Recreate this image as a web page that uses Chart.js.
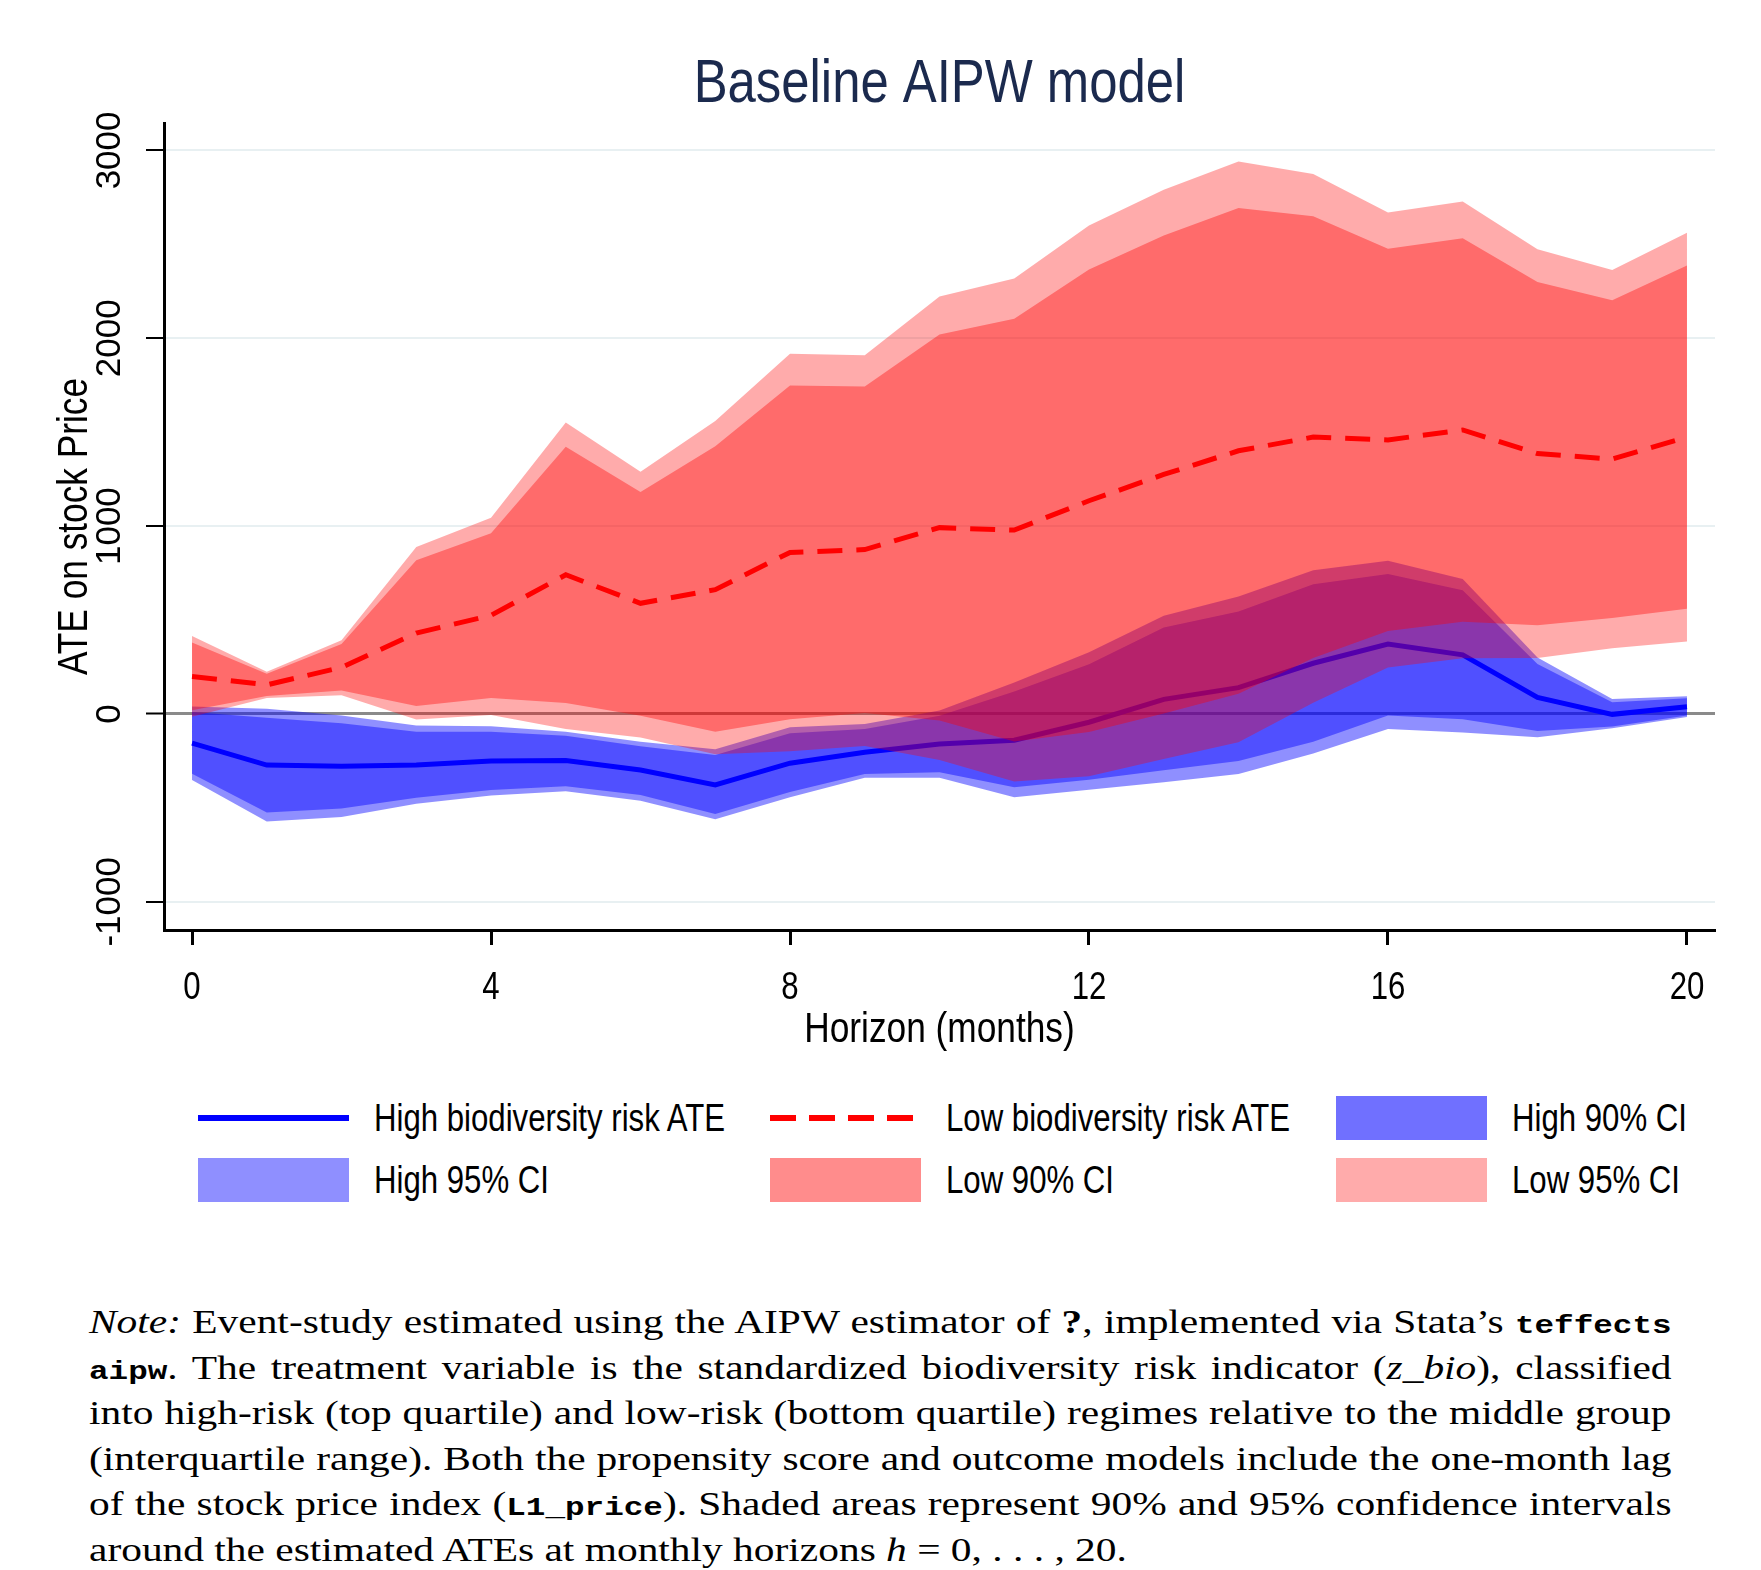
<!DOCTYPE html>
<html>
<head>
<meta charset="utf-8">
<title>Baseline AIPW model</title>
<script src="https://cdn.jsdelivr.net/npm/chart.js@4.4.1/dist/chart.umd.min.js"></script>
<style>
  html, body { margin: 0; padding: 0; background: #fff; }
  body { width: 1761px; height: 1570px; position: relative; overflow: hidden; }
  #wrap { position: absolute; left: 0; top: 0; width: 1761px; height: 1060px; }
  .lg { position: absolute; font-family: 'Liberation Sans', Arial, sans-serif; font-size: 38px; color: #000;
        white-space: nowrap; transform: scaleX(0.82); transform-origin: left center; }
  .sw { position: absolute; width: 151px; }
  #note { position: absolute; left: 89px; top: 1300px; width: 1261px; transform: scaleX(1.255); transform-origin: left top;
          font-family: 'Liberation Serif', 'DejaVu Serif', serif; font-size: 33px; color: #000; }
  .ln { white-space: nowrap; height: 45.6px; line-height: 45.6px; text-align: justify; text-align-last: justify; }
  .ln.last { text-align-last: left; }
  .tt { font-family: 'Liberation Mono', 'DejaVu Sans Mono', monospace; font-weight: bold; font-size: 26px; }
</style>
</head>
<body>
<div id="wrap"><canvas id="chart"></canvas></div>
<div id="legend"></div>
<div id="note">
  <div class="ln"><i>Note:</i> Event-study estimated using the AIPW estimator of <b>?</b>, implemented via Stata’s <span class="tt">teffects</span></div>
  <div class="ln"><span class="tt">aipw</span>. The treatment variable is the standardized biodiversity risk indicator (<i>z</i>_<i>bio</i>), classified</div>
  <div class="ln">into high-risk (top quartile) and low-risk (bottom quartile) regimes relative to the middle group</div>
  <div class="ln">(interquartile range). Both the propensity score and outcome models include the one-month lag</div>
  <div class="ln">of the stock price index (<span class="tt">L1_price</span>). Shaded areas represent 90% and 95% confidence intervals</div>
  <div class="ln last">around the estimated ATEs at monthly horizons <i>h</i> = 0, . . . , 20.</div>
</div>
<script>
// ---- data ----
const horizon = [0, 1, 2, 3, 4, 5, 6, 7, 8, 9, 10, 11, 12, 13, 14, 15, 16, 17, 18, 19, 20];

// high biodiversity risk (blue)
const highATE  = [-155, -272, -278, -271, -250, -248, -298, -378, -262, -204, -160, -140, -44, 78, 140, 270, 372, 315, 88, -2, 38];
const highHi95 = [40, 28, -8, -62, -66, -94, -148, -188, -71, -53, 18, 168, 328, 523, 625, 765, 816, 718, 300, 80, 94];
const highLo95 = [-351, -572, -548, -478, -434, -412, -462, -561, -443, -340, -340, -443, -403, -364, -320, -210, -80, -98, -124, -76, -16];
const highHi90 = [10, -20, -50, -94, -95, -116, -172, -218, -103, -80, -10, 120, 265, 460, 545, 690, 745, 658, 266, 63, 84];
const highLo90 = [-318, -524, -503, -446, -405, -385, -432, -532, -415, -320, -310, -390, -350, -300, -250, -148, -8, -28, -90, -67, -8];

// low biodiversity risk (red)
const lowATE  = [200, 155, 248, 431, 525, 741, 589, 662, 860, 875, 992, 979, 1135, 1275, 1401, 1474, 1459, 1512, 1386, 1357, 1474];
const lowHi95 = [415, 225, 392, 889, 1045, 1551, 1289, 1560, 1918, 1910, 2222, 2318, 2601, 2790, 2941, 2874, 2670, 2728, 2474, 2364, 2562];
const lowLo95 = [-15, 85, 100, -30, -5, -80, -125, -215, -198, -170, -245, -360, -331, -240, -150, 60, 248, 296, 298, 350, 386];
const lowHi90 = [380, 214, 372, 818, 962, 1423, 1181, 1425, 1748, 1743, 2020, 2104, 2366, 2547, 2694, 2650, 2476, 2533, 2300, 2203, 2388];
const lowLo90 = [20, 96, 125, 42, 85, 58, -10, -95, -28, 5, -35, -146, -96, 3, 108, 298, 442, 491, 472, 511, 560];

const xTicks = [0, 4, 8, 12, 16, 20];
const yTicks = [-1000, 0, 1000, 2000, 3000];

const chartTitle = 'Baseline AIPW model';
const xTitle = 'Horizon (months)';
const yTitle = 'ATE on stock Price';
const legendLabels = ['High biodiversity risk ATE', 'Low biodiversity risk ATE', 'High 90% CI',
                      'High 95% CI', 'Low 90% CI', 'Low 95% CI'];

// ---- styling ----
const SANS = "'Liberation Sans', Arial, sans-serif";
const NARROW = 0.82;   // horizontal squeeze that mimics Arial Narrow
const COLORS = {
  blue: '#0000ff', red: '#ff0000', title: '#1b2a4e',
  high95: 'rgba(0,0,255,0.44)', high90: 'rgba(0,0,255,0.44)',
  low95: 'rgba(255,0,0,0.33)', low90: 'rgba(255,0,0,0.375)',
  keyHigh90: '#7070ff', keyHigh95: '#8f8fff', keyLow90: '#ff8c8c', keyLow95: '#ffabab'
};

const pts = arr => horizon.map((h, i) => ({ x: h, y: arr[i] }));
const band = (arr, color, order, fillNext) => ({
  data: pts(arr), borderWidth: 0, pointRadius: 0, backgroundColor: color,
  fill: fillNext ? '+1' : false, order: order, tension: 0
});

function drawText(ctx, text, x, y, size, opts) {
  const o = opts || {};
  ctx.save();
  ctx.translate(x, y);
  if (o.rotate) ctx.rotate(o.rotate);
  ctx.scale(o.sx || 1, 1);
  ctx.font = size + 'px ' + SANS;
  ctx.fillStyle = o.color || '#000';
  ctx.textAlign = 'center';
  ctx.textBaseline = 'middle';
  ctx.fillText(text, 0, 0);
  ctx.restore();
}

// Stata-like texts: narrow title / x labels, rotated y labels and y title
const stataText = {
  id: 'stataText',
  afterDraw(chart) {
    const ctx = chart.ctx, ca = chart.chartArea;
    const xs = chart.scales.x, ys = chart.scales.y;
    const cx = (ca.left + ca.right) / 2, cy = (ca.top + ca.bottom) / 2;
    drawText(ctx, chartTitle, cx, ca.top - 38, 62, { sx: NARROW, color: COLORS.title });
    xs.ticks.forEach(t => drawText(ctx, String(t.value), xs.getPixelForValue(t.value), ca.bottom + 59, 38, { sx: NARROW }));
    drawText(ctx, xTitle, cx, ca.bottom + 100, 43, { sx: NARROW });
    ys.ticks.forEach(t => drawText(ctx, String(t.value), ca.left - 54, ys.getPixelForValue(t.value), 35, { rotate: -Math.PI / 2 }));
    drawText(ctx, yTitle, ca.left - 89, cy, 43, { rotate: -Math.PI / 2, sx: NARROW });
  }
};

new Chart(document.getElementById('chart'), {
  type: 'line',
  data: {
    datasets: [
      band(highHi95, COLORS.high95, 10, true),
      band(highLo95, COLORS.high95, 10, false),
      band(highHi90, COLORS.high90, 9, true),
      band(highLo90, COLORS.high90, 9, false),
      { data: pts(highATE), borderColor: COLORS.blue, borderWidth: 5, pointRadius: 0, fill: false, order: 8 },
      band(lowHi95, COLORS.low95, 7, true),
      band(lowLo95, COLORS.low95, 7, false),
      band(lowHi90, COLORS.low90, 6, true),
      band(lowLo90, COLORS.low90, 6, false),
      { data: pts(lowATE), borderColor: COLORS.red, borderWidth: 5, borderDash: [25, 14], pointRadius: 0, fill: false, order: 5 }
    ]
  },
  options: {
    responsive: true, maintainAspectRatio: false, animation: false,
    devicePixelRatio: 1,
    layout: { padding: { left: 0, right: 46, top: 123, bottom: 0 } },
    plugins: {
      legend: { display: false },
      tooltip: { enabled: false },
      title: { display: false }
    },
    scales: {
      x: {
        type: 'linear', min: -0.375, max: 20.375,
        afterBuildTicks: s => { s.ticks = xTicks.map(v => ({ value: v })); },
        afterFit: s => { s.height = 130; },
        grid: { drawOnChartArea: false, drawTicks: true, tickLength: 15, tickColor: '#000', tickWidth: 3 },
        border: { color: '#000', width: 3 },
        ticks: { display: false }
      },
      y: {
        type: 'linear', min: -1150, max: 3146,
        afterBuildTicks: s => { s.ticks = yTicks.map(v => ({ value: v })); },
        afterFit: s => { s.width = 164; },
        grid: {
          color: c => c.tick && c.tick.value === 0 ? '#8a8a8a' : '#e8f0f2',
          lineWidth: c => c.tick && c.tick.value === 0 ? 3 : 2,
          drawTicks: true, tickLength: 18, tickColor: '#000', tickWidth: 2
        },
        border: { color: '#000', width: 3 },
        ticks: { display: false }
      }
    }
  },
  plugins: [stataText]
});

// ---- legend (3 columns x 2 rows, Stata style) ----
const legendEl = document.getElementById('legend');
const colX = [198, 770, 1336];
const rowY = [1118, 1180];
const keys = [
  { kind: 'line', color: COLORS.blue },
  { kind: 'dash', color: COLORS.red },
  { kind: 'box', color: COLORS.keyHigh90 },
  { kind: 'box', color: COLORS.keyHigh95 },
  { kind: 'box', color: COLORS.keyLow90 },
  { kind: 'box', color: COLORS.keyLow95 }
];
legendLabels.forEach((label, i) => {
  const cx = colX[i % 3], cy = rowY[Math.floor(i / 3)];
  const sw = document.createElement('div');
  sw.className = 'sw';
  const k = keys[i];
  if (k.kind === 'box') {
    sw.style.cssText = `left:${cx}px;top:${cy - 22}px;height:44px;background:${k.color};`;
  } else if (k.kind === 'line') {
    sw.style.cssText = `left:${cx}px;top:${cy - 3}px;height:6px;background:${k.color};`;
  } else {
    sw.style.cssText = `left:${cx}px;top:${cy - 3}px;height:6px;width:143px;` +
      `background:repeating-linear-gradient(to right, ${k.color} 0 26px, transparent 26px 39px);`;
  }
  legendEl.appendChild(sw);
  const tx = document.createElement('div');
  tx.className = 'lg';
  tx.textContent = label;
  tx.style.left = (cx + 176) + 'px';
  tx.style.top = (cy - 23) + 'px';
  tx.style.lineHeight = '46px';
  legendEl.appendChild(tx);
});
</script>
</body>
</html>
